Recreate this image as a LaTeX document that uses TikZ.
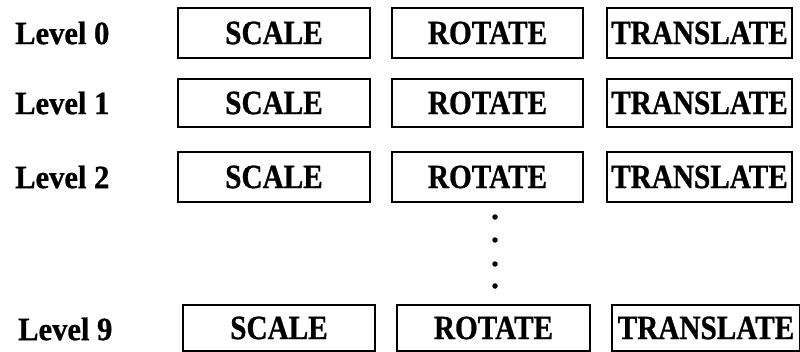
\documentclass[tikz,border=0pt]{standalone}
\usepackage{fontspec}
\setmainfont[FakeStretch=0.86,BoldFeatures={FakeBold=0.8}]{Liberation Serif}
\newfontfamily\lvlfont[FakeStretch=0.94,BoldFeatures={FakeBold=0.8}]{Liberation Serif}
\begin{document}
\begin{tikzpicture}[x=1pt,y=-1pt,
  opbox/.style={draw=black, line width=2.8pt, inner sep=0pt, minimum height=48pt,
    font=\fontsize{34}{36}\selectfont\bfseries},
  lvl/.style={inner sep=0pt, anchor=west, font=\lvlfont\fontsize{32.5}{34}\selectfont\bfseries},
  dotmark/.style={circle, fill=black, inner sep=0pt, minimum size=5.5pt}]
\useasboundingbox (0,0) rectangle (800,351);
% rows 0--2
\foreach \r/\yy/\hh in {0/33/50, 1/103/48, 2/177/50} {
  \node[lvl] (l\r) at (15,\yy) {Level \r};
  \node[opbox, minimum width=192pt, minimum height=\hh pt] (s\r) at (274,\yy) {SCALE};
  \node[opbox, minimum width=191pt, minimum height=\hh pt] (r\r) at (487.5,\yy) {ROTATE};
  \node[opbox, minimum width=185pt, minimum height=\hh pt] (t\r) at (699.5,\yy) {TRANSLATE};
}
% vertical ellipsis
\node[dotmark] (d1) at (495,217) {};
\node[dotmark] (d2) at (495,240) {};
\node[dotmark] (d3) at (495,264) {};
\node[dotmark] (d4) at (495,286) {};
% row 9
\node[lvl] (l9) at (18,329) {Level 9};
\node[opbox, minimum width=192pt, minimum height=46pt] (s9) at (279,328) {SCALE};
\node[opbox, minimum width=193pt, minimum height=46pt] (r9) at (493.5,328) {ROTATE};
\node[opbox, minimum width=188pt, minimum height=46pt] (t9) at (706,328) {TRANSLATE};
\end{tikzpicture}
\end{document}
